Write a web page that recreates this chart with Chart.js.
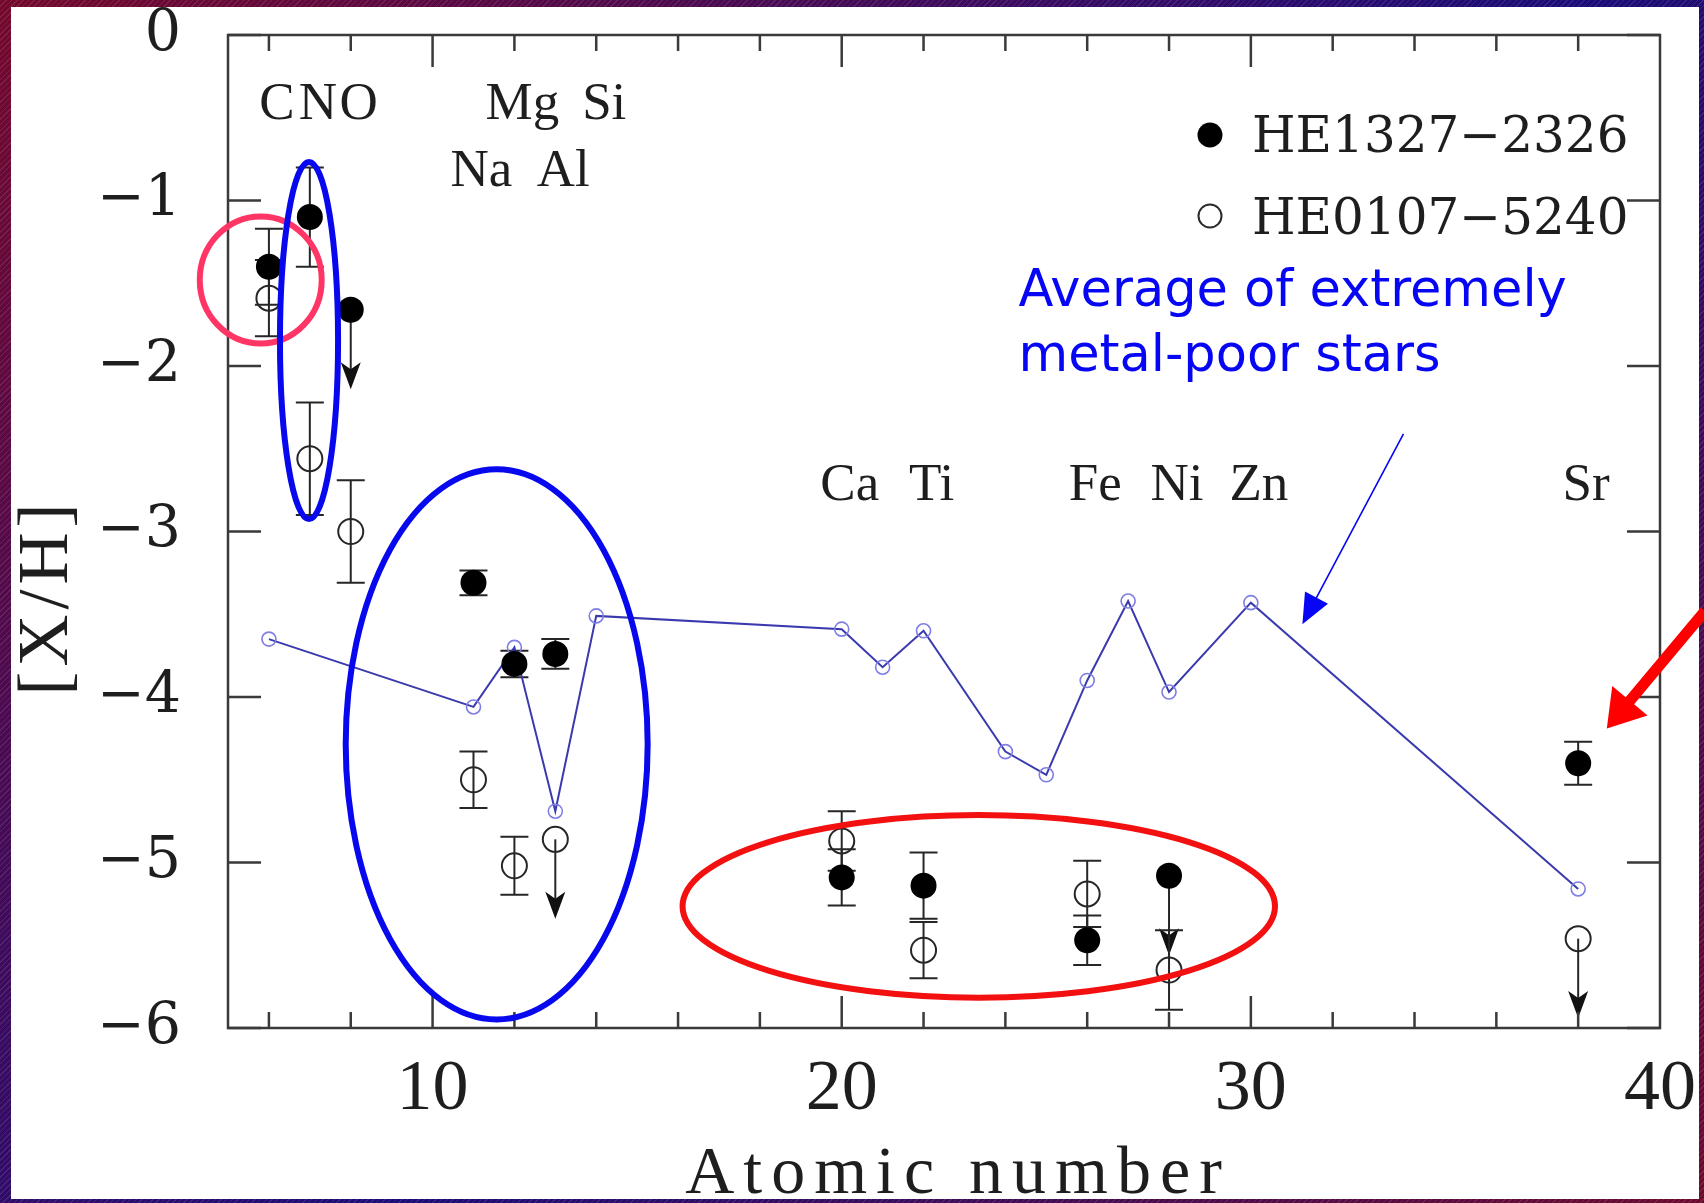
<!DOCTYPE html>
<html lang="en">
<head>
<meta charset="UTF-8">
<title>[X/H] vs Atomic number</title>
<script src="https://cdn.jsdelivr.net/npm/chart.js"></script>
<style>
  html, body { margin: 0; padding: 0; }
  body {
    width: 1704px; height: 1203px; overflow: hidden;
    background:
      repeating-linear-gradient(135deg, rgba(255,255,255,0.10) 0 1px, rgba(0,0,0,0) 1px 4px),
      linear-gradient(135deg, #74082c 0%, #2a0c6e 45%, #1a0c78 55%, #6c0a2e 100%);
  }
  canvas { display: block; }
</style>
</head>
<body>
<canvas id="abundChart" width="1704" height="1203"></canvas>
<script>
// atomic numbers measured for both stars
const starZ = [6, 7, 8, 11, 12, 13, 20, 22, 26, 28, 38];

// HE1327-2326 (filled)
const he1327 = [-1.40, -1.10, -1.66, -3.31, -3.80, -3.74, -5.09, -5.14, -5.47, -5.08, -4.40];
const he1327Err = [0.23, 0.30, 0, 0.075, 0.08, 0.09, 0.17, 0.20, 0.15, 0, 0.13];
const he1327Limit = [0, 0, 1, 0, 0, 0, 0, 0, 0, 1, 0];

// HE0107-5240 (open)
const he0107 = [-1.59, -2.56, -3.00, -4.50, -5.02, -4.86, -4.87, -5.53, -5.19, -5.65, -5.46];
const he0107Err = [0.23, 0.34, 0.31, 0.17, 0.175, 0, 0.18, 0.17, 0.20, 0.24, 0];
const he0107Limit = [0, 0, 0, 0, 0, 1, 0, 0, 0, 0, 1];

// average of extremely metal-poor stars
const empZ = [6, 11, 12, 13, 14, 20, 21, 22, 24, 25, 26, 27, 28, 30, 38];
const empAvg = [-3.65, -4.06, -3.70, -4.69, -3.51, -3.59, -3.82, -3.60, -4.33, -4.47, -3.90, -3.42, -3.97, -3.43, -5.16];

const xTicks = [10, 20, 30, 40];
const yTicks = [0, -1, -2, -3, -4, -5, -6];

// element names written above the points
const elemNames = ['C', 'N', 'O', 'Na', 'Mg', 'Al', 'Si', 'Ca', 'Ti', 'Fe', 'Ni', 'Zn', 'Sr'];
const elemZ = [6, 7, 8, 11, 12, 13, 14, 20, 22, 26, 28, 30, 38];
const elemRow = [-0.51, -0.51, -0.51, -0.91, -0.51, -0.91, -0.51, -2.81, -2.81, -2.81, -2.81, -2.81, -2.81];

const limitLen = 0.48;
const panel = { left: 11, top: 7, right: 1699, bottom: 1199 };

function toXY(zs, vs) {
    return zs.map((z, i) => ({ x: z, y: vs[i] }));
}

function ellipse(ctx, x, y, cx, cy, rx, ry) {
    const px = x.getPixelForValue(cx), py = y.getPixelForValue(cy);
    const prx = Math.abs(x.getPixelForValue(cx + rx) - px);
    const pry = Math.abs(y.getPixelForValue(cy + ry) - py);
    ctx.beginPath();
    ctx.ellipse(px, py, prx, pry, 0, 0, Math.PI * 2);
    ctx.stroke();
}

function arrow(ctx, x0, y0, x1, y1, shaft, headLen, headW) {
    const dx = x1 - x0, dy = y1 - y0;
    const len = Math.hypot(dx, dy);
    const ux = dx / len, uy = dy / len, nx = -uy, ny = ux;
    const bx = x1 - ux * headLen, by = y1 - uy * headLen;
    ctx.beginPath();
    ctx.moveTo(x0 + nx * shaft / 2, y0 + ny * shaft / 2);
    ctx.lineTo(bx + nx * shaft / 2, by + ny * shaft / 2);
    ctx.lineTo(bx + nx * headW / 2, by + ny * headW / 2);
    ctx.lineTo(x1, y1);
    ctx.lineTo(bx - nx * headW / 2, by - ny * headW / 2);
    ctx.lineTo(bx - nx * shaft / 2, by - ny * shaft / 2);
    ctx.lineTo(x0 - nx * shaft / 2, y0 - ny * shaft / 2);
    ctx.closePath();
    ctx.fill();
}

const decor = {
    id: 'decor',
    beforeDraw(chart) {
        const ctx = chart.ctx;
        ctx.save();
        ctx.fillStyle = '#ffffff';
        ctx.fillRect(panel.left, panel.top, panel.right - panel.left, panel.bottom - panel.top);
        ctx.restore();
    },
    beforeDatasetsDraw(chart) {
        const { ctx, scales: { x, y } } = chart;
        ctx.save();
        ctx.strokeStyle = '#262626';
        ctx.fillStyle = '#111';
        ctx.lineWidth = 2;
        [[he1327, he1327Err, he1327Limit], [he0107, he0107Err, he0107Limit]].forEach(([vals, errs, lims]) => {
            starZ.forEach((z, i) => {
                const px = x.getPixelForValue(z);
                if (errs[i] > 0) {
                    const t = y.getPixelForValue(vals[i] + errs[i]);
                    const b = y.getPixelForValue(vals[i] - errs[i]);
                    ctx.beginPath();
                    ctx.moveTo(px, t); ctx.lineTo(px, b);
                    ctx.moveTo(px - 14, t); ctx.lineTo(px + 14, t);
                    ctx.moveTo(px - 14, b); ctx.lineTo(px + 14, b);
                    ctx.stroke();
                }
                if (lims[i]) {
                    const py = y.getPixelForValue(vals[i]);
                    const tip = y.getPixelForValue(vals[i] - limitLen);
                    ctx.beginPath();
                    ctx.moveTo(px, py); ctx.lineTo(px, tip - 6);
                    ctx.stroke();
                    ctx.beginPath();
                    ctx.moveTo(px, tip);
                    ctx.lineTo(px - 10, tip - 27);
                    ctx.lineTo(px, tip - 20);
                    ctx.lineTo(px + 10, tip - 27);
                    ctx.closePath();
                    ctx.fill();
                }
            });
        });
        ctx.restore();
    },
    afterDraw(chart) {
        const { ctx, chartArea: a, scales: { x, y } } = chart;
        ctx.save();

        // frame with inward ticks on all four sides
        ctx.strokeStyle = '#3a3a3a';
        ctx.lineWidth = 2.5;
        ctx.strokeRect(a.left, a.top, a.right - a.left, a.bottom - a.top);
        ctx.beginPath();
        for (let z = 6; z < 40; z += 2) {
            const px = x.getPixelForValue(z);
            const len = z % 10 === 0 ? 32 : 16;
            ctx.moveTo(px, a.bottom); ctx.lineTo(px, a.bottom - len);
            ctx.moveTo(px, a.top); ctx.lineTo(px, a.top + len);
        }
        yTicks.forEach(v => {
            const py = y.getPixelForValue(v);
            ctx.moveTo(a.left, py); ctx.lineTo(a.left + 33, py);
            ctx.moveTo(a.right, py); ctx.lineTo(a.right - 33, py);
        });
        ctx.stroke();

        // legend
        ctx.fillStyle = '#000';
        ctx.beginPath(); ctx.arc(1210, 135, 12.5, 0, Math.PI * 2); ctx.fill();
        ctx.strokeStyle = '#2a2a2a'; ctx.lineWidth = 2;
        ctx.beginPath(); ctx.arc(1210, 216, 11.5, 0, Math.PI * 2); ctx.stroke();
        ctx.fillStyle = '#1e1e1e';
        ctx.font = '50px "DejaVu Serif"';
        ctx.textAlign = 'left';
        ctx.textBaseline = 'alphabetic';
        ctx.fillText('HE1327\u22122326', 1252, 152);
        ctx.fillText('HE0107\u22125240', 1252, 234);

        // element names
        ctx.font = '53px "Liberation Serif"';
        ctx.textAlign = 'center';
        elemNames.forEach((n, i) => {
            ctx.fillText(n, x.getPixelForValue(elemZ[i]) + 8, y.getPixelForValue(elemRow[i]));
        });

        // axis titles
        ctx.save();
        ctx.beginPath();
        ctx.rect(panel.left, panel.top, panel.right - panel.left, panel.bottom - panel.top);
        ctx.clip();
        ctx.font = '68px "Liberation Serif"';
        ctx.letterSpacing = '9px';
        ctx.fillText('Atomic number', 958, 1193);
        ctx.translate(67, 597);
        ctx.rotate(-Math.PI / 2);
        ctx.font = '72px "Liberation Serif"';
        ctx.letterSpacing = '5px';
        ctx.fillText('[X/H]', 0, 0);
        ctx.restore();

        // highlight ellipses
        ctx.lineWidth = 6;
        ctx.strokeStyle = '#ff3566';
        ellipse(ctx, x, y, 5.8, -1.48, 1.49, 0.384);
        ctx.strokeStyle = '#0808ee';
        ellipse(ctx, x, y, 6.98, -1.846, 0.71, 1.079);
        ellipse(ctx, x, y, 11.567, -4.286, 3.69, 1.662);
        ctx.strokeStyle = '#f21010';
        ellipse(ctx, x, y, 23.35, -5.265, 7.24, 0.552);

        // annotation text + arrows
        ctx.fillStyle = '#0606f4';
        ctx.font = '51px "DejaVu Sans"';
        ctx.textAlign = 'left';
        ctx.letterSpacing = '0px';
        ctx.fillText('Average of extremely', x.getPixelForValue(24.32), y.getPixelForValue(-1.64));
        ctx.fillText('metal-poor stars', x.getPixelForValue(24.32), y.getPixelForValue(-2.03));

        const bx0 = x.getPixelForValue(33.73), by0 = y.getPixelForValue(-2.41);
        const bx1 = x.getPixelForValue(31.26), by1 = y.getPixelForValue(-3.56);
        arrow(ctx, bx0, by0, bx1, by1, 1.6, 30, 26);

        ctx.fillStyle = '#ff0000';
        arrow(ctx, x.getPixelForValue(41.1), y.getPixelForValue(-3.48),
              x.getPixelForValue(38.7), y.getPixelForValue(-4.19), 11, 36, 46);
        ctx.restore();
    }
};

new Chart(document.getElementById('abundChart'), {
    type: 'scatter',
    data: {
        datasets: [
            {
                label: 'HE1327\u22122326',
                data: toXY(starZ, he1327),
                pointRadius: 13,
                pointBackgroundColor: '#000',
                pointBorderColor: '#000',
                pointBorderWidth: 0,
                order: 1
            },
            {
                label: 'HE0107\u22125240',
                data: toXY(starZ, he0107),
                pointRadius: 12.5,
                pointBackgroundColor: 'rgba(0,0,0,0)',
                pointBorderColor: '#262626',
                pointBorderWidth: 2,
                order: 2
            },
            {
                label: 'Average of extremely metal-poor stars',
                data: toXY(empZ, empAvg),
                showLine: true,
                borderColor: '#3a3aae',
                borderWidth: 2,
                pointRadius: 7,
                pointBackgroundColor: 'rgba(0,0,0,0)',
                pointBorderColor: '#7e7ee4',
                pointBorderWidth: 1.6,
                order: 3
            }
        ]
    },
    options: {
        responsive: false,
        animation: false,
        layout: { padding: { top: 35, right: 44, bottom: 0, left: 0 } },
        plugins: { legend: { display: false }, tooltip: { enabled: false } },
        scales: {
            x: {
                type: 'linear',
                min: 5,
                max: 40,
                afterBuildTicks: s => { s.ticks = xTicks.map(v => ({ value: v })); },
                afterFit: s => { s.height = 175; s.paddingLeft = 0; s.paddingRight = 0; },
                grid: { display: false, drawTicks: false },
                border: { display: false },
                ticks: {
                    padding: 19,
                    font: { family: 'Liberation Serif', size: 72 },
                    color: '#1e1e1e',
                    maxRotation: 0,
                    autoSkip: false
                }
            },
            y: {
                type: 'linear',
                min: -6,
                max: 0,
                afterBuildTicks: s => { s.ticks = yTicks.map(v => ({ value: v })); },
                afterFit: s => { s.width = 228; s.paddingTop = 0; s.paddingBottom = 0; },
                grid: { display: false, drawTicks: false },
                border: { display: false },
                ticks: {
                    padding: 47,
                    font: { family: 'DejaVu Serif', size: 57 },
                    color: '#1e1e1e',
                    callback: v => v === 0 ? '0' : '\u2212' + Math.abs(v)
                }
            }
        }
    },
    plugins: [decor]
});
</script>
</body>
</html>
